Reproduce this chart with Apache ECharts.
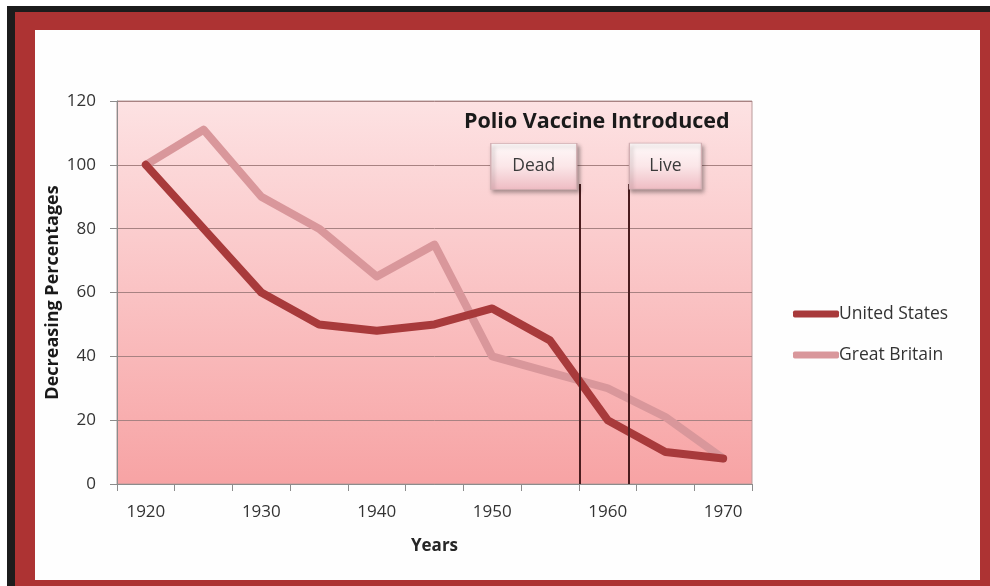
<!DOCTYPE html>
<html>
<head>
<meta charset="utf-8">
<script src="https://cdn.jsdelivr.net/npm/echarts@6/dist/echarts.min.js"></script>
<style>
  html, body { margin: 0; padding: 0; background: #ffffff; }
  #wrap { position: relative; width: 990px; height: 586px; overflow: hidden; }
  .f { position: absolute; }
  #blk { left: 7px; top: 6px; width: 983px; height: 580px; background: #1c1c1c; }
  #red { left: 15px; top: 12px; width: 975px; height: 574px; background: #ad3333; }
  #wht { left: 35px; top: 30px; width: 945px; height: 550px; background: #fefefe; }
  #chart { position: absolute; left: 0; top: 0; width: 990px; height: 586px; }
</style>
</head>
<body>
<div id="wrap">
  <div class="f" id="blk"></div>
  <div class="f" id="red"></div>
  <div class="f" id="wht"></div>
  <div id="chart"></div>
</div>
<script>
const years = ['1920','1925','1930','1935','1940','1945','1950','1955','1960','1965','1970'];
const unitedStates = [100, 80, 60, 50, 48, 50, 55, 45, 20, 10, 8];
const greatBritain = [100, 111, 90, 80, 65, 75, 40, 35, 30, 21, 8];
const yTicks = [0, 20, 40, 60, 80, 100, 120];
const vaccineYears = [1957.6, 1961.8];
const vaccineLabels = ['Dead', 'Live'];
const vaccineLineTop = 94;
const boxCenters = [[1953.6, 99.5], [1965.0, 99.6]];

const FONT = 'Open Sans';
const chart = echarts.init(document.getElementById('chart'), null, { renderer: 'canvas' });

const option = {
  backgroundColor: 'transparent',
  animation: false,
  title: {
    text: 'Polio Vaccine Introduced',
    left: 459,
    top: 106,
    textStyle: { fontFamily: FONT, fontWeight: 'bold', fontSize: 21.5, color: '#1a1a1a' }
  },
  legend: {
    orient: 'vertical',
    left: 788,
    top: 300,
    itemWidth: 46,
    itemHeight: 7,
    itemGap: 23,
    icon: 'roundRect',
    data: ['United States', 'Great Britain'],
    textStyle: { fontFamily: FONT, fontSize: 17.5, color: '#333333', padding: [0, 0, 0, -5] }
  },
  grid: {
    left: 117, right: 238, top: 101, bottom: 102,
    show: true,
    borderColor: '#b89a9a',
    borderWidth: 1,
    backgroundColor: {
      type: 'linear', x: 0, y: 0, x2: 0, y2: 1,
      colorStops: [{ offset: 0, color: '#fde2e3' }, { offset: 1, color: '#f7a3a4' }]
    }
  },
  xAxis: [{
    type: 'category',
    data: years,
    boundaryGap: true,
    name: 'Years',
    nameLocation: 'middle',
    nameGap: 54,
    nameMoveOverlap: false,
    nameTextStyle: { fontFamily: FONT, fontWeight: 'bold', fontSize: 17, color: '#262626' },
    axisLine: { show: true, lineStyle: { color: '#8c8c8c', width: 1 } },
    axisTick: { show: true, interval: 0, length: 7, lineStyle: { color: '#8c8c8c' } },
    axisLabel: {
      interval: 1,
      margin: 20,
      fontFamily: FONT, fontSize: 17, color: '#333333'
    },
    splitLine: { show: false }
  }, {
    type: 'value',
    min: 1917.5,
    max: 1972.5,
    show: false
  }],
  yAxis: {
    type: 'value',
    min: 0,
    max: 120,
    interval: 20,
    name: 'Decreasing Percentages',
    nameLocation: 'middle',
    nameGap: 55,
    nameMoveOverlap: false,
    nameTextStyle: { fontFamily: FONT, fontWeight: 'bold', fontSize: 18, color: '#1a1a1a' },
    axisLine: { show: true, lineStyle: { color: '#8c8c8c', width: 1 } },
    axisTick: { show: true, length: 7, lineStyle: { color: '#8c8c8c' } },
    axisLabel: {
      margin: 21, fontFamily: FONT, fontSize: 17, color: '#333333',
      formatter: function (v) { return yTicks.indexOf(v) >= 0 ? String(v) : ''; }
    },
    splitLine: { show: true, lineStyle: { color: '#a88282', width: 1 } }
  },
  series: [
    {
      name: 'Great Britain',
      type: 'line',
      data: greatBritain,
      symbol: 'none',
      z: 2,
      color: '#d9979b',
      lineStyle: { width: 8, color: '#d9979b', cap: 'round', join: 'round' }
    },
    {
      name: 'United States',
      type: 'line',
      data: unitedStates,
      symbol: 'none',
      z: 3,
      color: '#a83a3b',
      lineStyle: { width: 8, color: '#a83a3b', cap: 'round', join: 'round' }
    },
    {
      name: 'annotations',
      type: 'line',
      xAxisIndex: 1,
      data: [],
      symbol: 'none',
      z: 5,
      markLine: {
        silent: true,
        symbol: ['none', 'none'],
        label: { show: false },
        lineStyle: { color: '#4a1c1e', width: 2, type: 'solid' },
        data: vaccineYears.map(function (y) {
          return [{ coord: [y, vaccineLineTop] }, { coord: [y, 0] }];
        })
      },
      markPoint: {
        silent: true,
        symbol: 'rect',
        itemStyle: {
          color: {
            type: 'linear', x: 0, y: 0, x2: 0, y2: 1,
            colorStops: [{ offset: 0, color: '#fffafa' }, { offset: 0.5, color: '#fbe6e8' }, { offset: 1, color: '#efbcc3' }]
          },
          borderColor: '#d2aeb2',
          borderWidth: 1,
          shadowBlur: 4,
          shadowColor: 'rgba(0,0,0,0.35)',
          shadowOffsetX: 2,
          shadowOffsetY: 3
        },
        label: {
          show: true,
          position: 'inside',
          fontFamily: FONT, fontSize: 17.5, color: '#3a3a3a'
        },
        data: vaccineLabels.map(function (t, i) {
          return {
            name: t,
            coord: boxCenters[i],
            symbolSize: i === 0 ? [86, 46] : [72, 46],
            label: { formatter: t }
          };
        })
      }
    }
  ]
};
chart.setOption(option);
</script>
</body>
</html>
